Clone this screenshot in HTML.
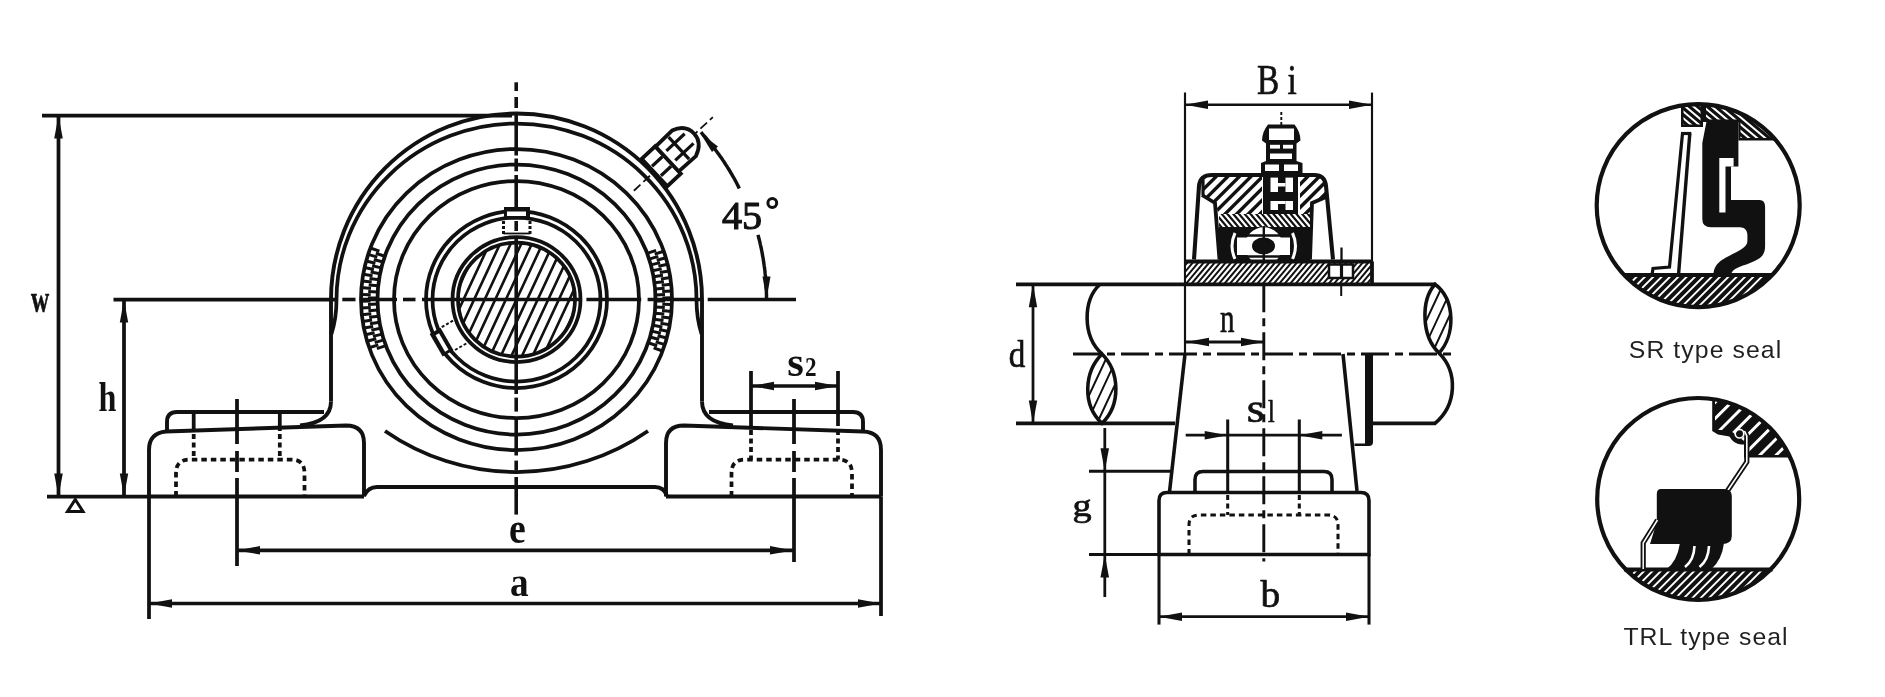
<!DOCTYPE html>
<html><head><meta charset="utf-8"><style>
html,body{margin:0;padding:0;background:#fff;}
svg{display:block;filter:grayscale(1);}
</style></head><body>
<svg width="1885" height="697" viewBox="0 0 1885 697">
<rect width="1885" height="697" fill="#fff"/>
<g stroke="#111" fill="none" stroke-linecap="butt">
<line x1="42" y1="115.5" x2="512" y2="115.5" stroke-width="3.75" />
<line x1="58.5" y1="115.5" x2="58.5" y2="496.5" stroke-width="3.75" />
<path d="M58.5,115.5 L62.8,138.5 L54.2,138.5 Z" fill="#111" stroke="none"/>
<path d="M58.5,496.5 L54.2,473.5 L62.8,473.5 Z" fill="#111" stroke="none"/>
<line x1="113.5" y1="299.5" x2="338" y2="299.5" stroke-width="3.75" />
<line x1="124" y1="299.5" x2="124" y2="496.5" stroke-width="3.75" />
<path d="M124.0,299.5 L128.2,322.5 L119.8,322.5 Z" fill="#111" stroke="none"/>
<path d="M124.0,496.5 L119.8,473.5 L128.2,473.5 Z" fill="#111" stroke="none"/>
<line x1="47" y1="496.5" x2="149" y2="496.5" stroke-width="3.75" />
<path d="M67.5,511.5 L83,511.5 L75.25,499.5 Z" stroke-width="3.00" fill="none" />
<path d="M331,401.5 L331,299.5 A185.5,186 0 0 1 702,299.5 L702,401.5" stroke-width="3.90" fill="none" />
<path d="M331,401.5 C331,416 320,423.5 300,425.5" stroke-width="3.90" fill="none" />
<path d="M702,401.5 C702,416 713,423.5 733,425.5" stroke-width="3.90" fill="none" />
<path d="M331.5,334 Q336.5,318 336.5,299.5 A180,176 0 0 1 696.5,299.5 Q696.5,318 701.5,334" stroke-width="3.75" fill="none" />
<ellipse cx="516.5" cy="299.5" rx="155.5" ry="150.5" stroke-width="3.75" fill="none" />
<ellipse cx="516.5" cy="299.5" rx="139" ry="135" stroke-width="3.75" fill="none" />
<ellipse cx="516.5" cy="299.5" rx="122.5" ry="118.5" stroke-width="3.75" fill="none" />
<ellipse cx="516.5" cy="299.5" rx="90.5" ry="88.5" stroke-width="3.75" fill="none" />
<ellipse cx="516.5" cy="299.5" rx="84" ry="82" stroke-width="3.75" fill="none" />
<ellipse cx="516.5" cy="299.5" rx="64" ry="62.5" stroke-width="3.75" fill="none" />
<ellipse cx="516.5" cy="299.5" rx="58.5" ry="57" stroke-width="3.75" fill="none" />
<path d="M379.4,251.1 L370.4,248.0 M384.8,256.2 L375.8,253.3 M377.3,257.1 L368.1,254.4 M383.0,262.0 L373.8,259.5 M375.4,263.3 L366.2,261.0 M381.4,267.9 L372.1,265.8 M373.9,269.5 L364.5,267.5 M380.0,273.8 L370.6,272.1 M372.6,275.7 L363.2,274.2 M379.0,279.8 L369.5,278.5 M371.7,282.0 L362.2,280.9 M378.2,285.8 L368.7,284.9 M371.0,288.4 L361.5,287.6 M377.7,291.9 L368.2,291.4 M370.7,294.7 L361.1,294.4 M377.5,298.0 L367.9,297.9 M370.6,301.1 L361.0,301.2 M377.6,304.1 L368.0,304.4 M370.8,307.5 L361.2,308.0 M377.9,310.1 L368.4,310.8 M371.3,313.8 L361.8,314.7 M378.6,316.2 L369.1,317.3 M372.1,320.1 L362.7,321.5 M379.5,322.2 L370.0,323.7 M373.2,326.4 L363.8,328.1 M380.7,328.2 L371.3,330.1 M374.6,332.7 L365.3,334.8 M382.1,334.1 L372.9,336.4 M376.3,338.8 L367.1,341.3 M383.9,339.9 L374.7,342.6 M378.3,344.9 L369.2,347.8 M385.9,345.7 L376.9,348.7" stroke-width="3.0" fill="none"/>
<path d="M653.6,347.9 L662.6,351.0 M648.2,342.8 L657.2,345.7 M655.7,341.9 L664.9,344.6 M650.0,337.0 L659.2,339.5 M657.6,335.7 L666.8,338.0 M651.6,331.1 L660.9,333.2 M659.1,329.5 L668.5,331.5 M653.0,325.2 L662.4,326.9 M660.4,323.3 L669.8,324.8 M654.0,319.2 L663.5,320.5 M661.3,317.0 L670.8,318.1 M654.8,313.2 L664.3,314.1 M662.0,310.6 L671.5,311.4 M655.3,307.1 L664.8,307.6 M662.3,304.3 L671.9,304.6 M655.5,301.0 L665.1,301.1 M662.4,297.9 L672.0,297.8 M655.4,294.9 L665.0,294.6 M662.2,291.5 L671.8,291.0 M655.1,288.9 L664.6,288.2 M661.7,285.2 L671.2,284.3 M654.4,282.8 L663.9,281.7 M660.9,278.9 L670.3,277.5 M653.5,276.8 L663.0,275.3 M659.8,272.6 L669.2,270.9 M652.3,270.8 L661.7,268.9 M658.4,266.3 L667.7,264.2 M650.9,264.9 L660.1,262.6 M656.7,260.2 L665.9,257.7 M649.1,259.1 L658.3,256.4 M654.7,254.1 L663.8,251.2 M647.1,253.3 L656.1,250.3" stroke-width="3.0" fill="none"/>
<path d="M385,431 A231,231 0 0 0 648,431" stroke-width="3.75" fill="none" />
<clipPath id="shaft"><ellipse cx="516.5" cy="299.5" rx="58.5" ry="57"/></clipPath>
<path d="M352.0,379.5 L426.6,219.5 M362.6,379.5 L437.2,219.5 M373.2,379.5 L447.8,219.5 M383.8,379.5 L458.4,219.5 M394.4,379.5 L469.0,219.5 M405.0,379.5 L479.6,219.5 M415.6,379.5 L490.2,219.5 M426.2,379.5 L500.8,219.5 M436.8,379.5 L511.4,219.5 M447.4,379.5 L522.0,219.5 M458.0,379.5 L532.6,219.5 M468.6,379.5 L543.2,219.5 M479.2,379.5 L553.8,219.5 M489.8,379.5 L564.4,219.5 M500.4,379.5 L575.0,219.5 M511.0,379.5 L585.6,219.5 M521.6,379.5 L596.2,219.5 M532.2,379.5 L606.8,219.5 M542.8,379.5 L617.4,219.5 M553.4,379.5 L628.0,219.5 M564.0,379.5 L638.6,219.5 M574.6,379.5 L649.2,219.5 M585.2,379.5 L659.8,219.5 M595.8,379.5 L670.4,219.5 M606.4,379.5 L681.0,219.5" stroke-width="2.62" fill="none" clip-path="url(#shaft)"/>
<line x1="342.3" y1="299.5" x2="355.5" y2="299.5" stroke-width="3.60" />
<line x1="361" y1="299.5" x2="397" y2="299.5" stroke-width="3.60" />
<line x1="403" y1="299.5" x2="415.5" y2="299.5" stroke-width="3.60" />
<line x1="422" y1="299.5" x2="580.5" y2="299.5" stroke-width="3.60" />
<line x1="586.4" y1="299.5" x2="641.2" y2="299.5" stroke-width="3.60" />
<line x1="647.6" y1="299.5" x2="703" y2="299.5" stroke-width="3.60" />
<line x1="707.7" y1="299.5" x2="796" y2="299.5" stroke-width="3.60" />
<line x1="516.2" y1="82.3" x2="516.2" y2="91" stroke-width="3.60" />
<line x1="516.2" y1="97" x2="516.2" y2="108" stroke-width="3.60" />
<line x1="516.2" y1="112" x2="516.2" y2="155.5" stroke-width="3.60" />
<line x1="516.2" y1="158.5" x2="516.2" y2="171.3" stroke-width="3.60" />
<line x1="516.2" y1="175" x2="516.2" y2="207" stroke-width="3.60" />
<line x1="516.2" y1="221" x2="516.2" y2="231" stroke-width="3.60" />
<line x1="516.2" y1="236" x2="516.2" y2="394" stroke-width="3.60" />
<line x1="516.2" y1="397.6" x2="516.2" y2="411.6" stroke-width="3.60" />
<line x1="516.2" y1="418" x2="516.2" y2="455.5" stroke-width="3.60" />
<line x1="516.2" y1="460.6" x2="516.2" y2="470.6" stroke-width="3.60" />
<line x1="516.2" y1="477" x2="516.2" y2="514.6" stroke-width="3.60" />
<rect x="504" y="207" width="26" height="12.5" fill="#111" stroke="none"/>
<rect x="507" y="211.5" width="19" height="4.5" fill="#fff" stroke="none"/>
<line x1="503.5" y1="221" x2="503.5" y2="235" stroke-width="3.00" stroke-dasharray="3 2"/>
<line x1="530" y1="221" x2="530" y2="235" stroke-width="3.00" stroke-dasharray="3 2"/>
<line x1="503.5" y1="233.5" x2="530" y2="233.5" stroke-width="1.80" />
<g transform="rotate(-120 516.5 299.5)"><rect x="504" y="207" width="26" height="12.5" fill="#111" stroke="none"/><rect x="507" y="211.5" width="19" height="4" fill="#fff" stroke="none"/><line x1="503.5" y1="221" x2="503.5" y2="235" stroke-width="2" stroke-dasharray="3 2"/><line x1="530" y1="221" x2="530" y2="235" stroke-width="2" stroke-dasharray="3 2"/></g>
<g transform="translate(516.5,299.5) rotate(-43)"><line x1="160" y1="0.5" x2="268" y2="0.5" stroke-width="1.8" stroke-dasharray="9 4"/><path d="M187.5,-17.5 L206,-17.5 L206,20 L187.5,20 Z" fill="#fff" stroke-width="3.8"/><path d="M190,-5 L204,-5 M190,8 L204,8" stroke-width="3.2"/><path d="M206,-17 L229,-17.5 Q243,-13 243,0 Q243,12 229,17.5 L206,17 Z" fill="#fff" stroke-width="3.8"/><path d="M211,-6.5 L236,-6.5 M211,6.5 L236,6.5 M222,-15 L222,15" stroke-width="3.2"/></g>
<path d="M701.0,132.2 L702.1,133.5 L703.2,134.8 L704.4,136.1 L705.5,137.4 L706.6,138.7 L707.7,140.0 L708.8,141.3 L709.8,142.6 L710.9,143.9 L712.0,145.3 L713.0,146.6 L714.1,148.0 L715.1,149.3 L716.1,150.7 L717.1,152.0 L718.1,153.4 L719.1,154.8 L720.1,156.2 L721.1,157.6 L722.1,159.0 L723.0,160.4 L724.0,161.8 L724.9,163.3 L725.8,164.7 L726.8,166.1 L727.7,167.6 L728.6,169.0 L729.5,170.5 L730.3,171.9 L731.2,173.4 L732.1,174.9 L732.9,176.4 L733.8,177.8 L734.6,179.3 L735.4,180.8 L736.2,182.3 L737.0,183.8 L737.8,185.4 L738.6,186.9 L739.3,188.4" stroke-width="3.45" fill="none" />
<path d="M758.0,234.8 L758.4,236.4 L758.8,238.0 L759.2,239.5 L759.6,241.1 L760.0,242.7 L760.3,244.3 L760.7,245.9 L761.0,247.5 L761.4,249.1 L761.7,250.7 L762.0,252.3 L762.3,253.9 L762.6,255.6 L762.9,257.2 L763.2,258.8 L763.4,260.4 L763.7,262.0 L763.9,263.6 L764.1,265.2 L764.4,266.9 L764.6,268.5 L764.8,270.1 L765.0,271.7 L765.1,273.4 L765.3,275.0 L765.5,276.6 L765.6,278.3 L765.7,279.9 L765.9,281.5 L766.0,283.1 L766.1,284.8 L766.2,286.4 L766.2,288.1 L766.3,289.7 L766.4,291.3 L766.4,293.0 L766.5,294.6 L766.5,296.2 L766.5,297.9 L766.5,299.5" stroke-width="3.45" fill="none" />
<path d="M700.2,132.9 L718.0,146.5 L712.0,151.9 Z" fill="#111" stroke="none"/>
<path d="M766.5,299.5 L762.5,276.5 L770.5,276.5 Z" fill="#111" stroke="none"/>
<circle cx="772.3" cy="203" r="4.4" stroke-width="3.0" fill="none"/>
<line x1="149" y1="496.5" x2="364" y2="496.5" stroke-width="3.90" />
<line x1="666" y1="496.5" x2="881" y2="496.5" stroke-width="3.90" />
<path d="M149,496.5 L149,450 Q149,433 166,431.5 L346,425.5 Q364,425.5 364,443 L364,496.5" stroke-width="3.90" fill="none" />
<path d="M364,496 Q368,487 377,487 L655,487 Q664,487 667,496" stroke-width="3.90" fill="none" />
<path d="M666,496.5 L666,443 Q666,425.5 684,425.5 L863,431.5 Q881,432 881,450 L881,496.5" stroke-width="3.90" fill="none" />
<path d="M167,431.5 L167,422 Q167,412 177,412 L324,412" stroke-width="3.90" fill="none" />
<path d="M709,412 L853,412 Q863,412 863,422 L863,431.5" stroke-width="3.90" fill="none" />
<path d="M176,496.5 L176,473 Q176,459.5 190,459.5 L291,459.5 Q304.5,459.5 304.5,473 L304.5,496.5" stroke-width="3.75" fill="none" stroke-dasharray="5.5 4"/>
<path d="M731.5,496.5 L731.5,473 Q731.5,459.5 745,459.5 L838,459.5 Q852,459.5 852,473 L852,496.5" stroke-width="3.75" fill="none" stroke-dasharray="5.5 4"/>
<line x1="193.7" y1="412" x2="193.7" y2="431" stroke-width="3.75" />
<line x1="193.7" y1="434" x2="193.7" y2="459.5" stroke-width="3.75" stroke-dasharray="5 3.5"/>
<line x1="279.8" y1="412" x2="279.8" y2="431" stroke-width="3.75" />
<line x1="279.8" y1="434" x2="279.8" y2="459.5" stroke-width="3.75" stroke-dasharray="5 3.5"/>
<line x1="751" y1="371" x2="751" y2="426" stroke-width="3.75" />
<line x1="751" y1="430" x2="751" y2="459.5" stroke-width="3.75" stroke-dasharray="5 3.5"/>
<line x1="838" y1="371" x2="838" y2="426" stroke-width="3.75" />
<line x1="838" y1="430" x2="838" y2="459.5" stroke-width="3.75" stroke-dasharray="5 3.5"/>
<line x1="237" y1="399" x2="237" y2="444" stroke-width="3.75" />
<line x1="237" y1="451" x2="237" y2="472" stroke-width="3.75" />
<line x1="237" y1="478" x2="237" y2="566" stroke-width="3.75" />
<line x1="794" y1="399" x2="794" y2="444" stroke-width="3.75" />
<line x1="794" y1="451" x2="794" y2="472" stroke-width="3.75" />
<line x1="794" y1="478" x2="794" y2="562" stroke-width="3.75" />
<line x1="237" y1="550.4" x2="793" y2="550.4" stroke-width="3.60" />
<path d="M237.0,550.4 L260.0,546.1 L260.0,554.6 Z" fill="#111" stroke="none"/>
<path d="M793.0,550.4 L770.0,554.6 L770.0,546.1 Z" fill="#111" stroke="none"/>
<line x1="149" y1="496.5" x2="149" y2="619" stroke-width="3.75" />
<line x1="881" y1="496.5" x2="881" y2="616" stroke-width="3.75" />
<line x1="149" y1="603.5" x2="881" y2="603.5" stroke-width="3.60" />
<path d="M149.0,603.5 L172.0,599.2 L172.0,607.8 Z" fill="#111" stroke="none"/>
<path d="M881.0,603.5 L858.0,607.8 L858.0,599.2 Z" fill="#111" stroke="none"/>
<line x1="751" y1="386" x2="838" y2="386" stroke-width="3.60" />
<path d="M751.0,386.0 L774.0,381.8 L774.0,390.2 Z" fill="#111" stroke="none"/>
<path d="M838.0,386.0 L815.0,390.2 L815.0,381.8 Z" fill="#111" stroke="none"/>
<line x1="1185" y1="92.6" x2="1185" y2="354" stroke-width="2.16" />
<line x1="1372" y1="92.6" x2="1372" y2="262" stroke-width="2.16" />
<line x1="1185" y1="104.8" x2="1372" y2="104.8" stroke-width="2.41" />
<path d="M1185.0,104.8 L1208.0,100.5 L1208.0,109.0 Z" fill="#111" stroke="none"/>
<path d="M1372.0,104.8 L1349.0,109.0 L1349.0,100.5 Z" fill="#111" stroke="none"/>
<line x1="1281.3" y1="112" x2="1281.3" y2="125" stroke-width="1.91" stroke-dasharray="3 2"/>
<path d="M1268,124.5 L1294.5,124.5 Q1300.5,132 1300.5,140.5 L1296.5,143.5 L1296.5,161 L1302.5,163 L1302.5,176 L1261,176 L1261,163 L1266,161 L1266,143.5 L1262,140.5 Q1262,132 1268,124.5 Z" stroke-width="0.00" fill="#111" stroke="none"/>
<rect x="1269" y="128.5" width="25" height="11.5" fill="#fff" stroke="none"/>
<rect x="1270" y="144.8" width="10" height="3.8" fill="#fff" stroke="none"/>
<rect x="1283" y="144.8" width="10" height="3.8" fill="#fff" stroke="none"/>
<rect x="1270" y="153.5" width="22" height="5.5" fill="#fff" stroke="none"/>
<rect x="1265" y="164.5" width="14" height="6.5" fill="#fff" stroke="none"/>
<rect x="1284" y="164.5" width="14" height="6.5" fill="#fff" stroke="none"/>
<pattern id="h45" patternUnits="userSpaceOnUse" width="8" height="8" patternTransform="rotate(45)"><rect width="8" height="8" fill="#fff"/><rect x="0" y="0" width="2.8" height="8" fill="#111"/></pattern>
<pattern id="fineA" patternUnits="userSpaceOnUse" width="4.6" height="4.6" patternTransform="rotate(45)"><rect width="4.6" height="4.6" fill="#111"/><rect x="0" y="0" width="2.2" height="4.6" fill="#fff"/></pattern>
<pattern id="fineB" patternUnits="userSpaceOnUse" width="4.6" height="4.6" patternTransform="rotate(-45)"><rect width="4.6" height="4.6" fill="#111"/><rect x="0" y="0" width="2.2" height="4.6" fill="#fff"/></pattern>
<clipPath id="hc1"><path d="M1203,176 L1262,176 L1262,215 L1219,215 L1215,203 L1202,195 Z"/></clipPath>
<g clip-path="url(#hc1)"><path d="M1154.2,192.1 L1229.6,116.7 M1160.0,197.9 L1235.4,122.5 M1165.8,203.7 L1241.2,128.3 M1171.6,209.5 L1247.0,134.1 M1177.4,215.3 L1252.8,139.9 M1183.2,221.1 L1258.6,145.7 M1189.0,226.9 L1264.4,151.5 M1194.8,232.7 L1270.2,157.3 M1200.6,238.5 L1276.0,163.1 M1206.4,244.3 L1281.8,168.9 M1212.2,250.1 L1287.6,174.7 M1218.0,255.9 L1293.4,180.5 M1223.8,261.7 L1299.2,186.3 M1229.6,267.5 L1305.0,192.1 M1235.4,273.3 L1310.8,197.9" stroke="#111" stroke-width="3.4" fill="none"/></g>
<clipPath id="hc2"><path d="M1300,176 L1322,176 L1326,184 L1326,197 L1312,203 L1310,215 L1300,215 Z"/></clipPath>
<g clip-path="url(#hc2)"><path d="M1256.1,193.4 L1310.9,138.6 M1261.9,199.2 L1316.7,144.4 M1267.7,205.0 L1322.5,150.2 M1273.5,210.8 L1328.3,156.0 M1279.3,216.6 L1334.1,161.8 M1285.1,222.4 L1339.9,167.6 M1290.9,228.2 L1345.7,173.4 M1296.7,234.0 L1351.5,179.2 M1302.5,239.8 L1357.3,185.0 M1308.3,245.6 L1363.1,190.8 M1314.1,251.4 L1368.9,196.6" stroke="#111" stroke-width="3.4" fill="none"/></g>
<rect x="1263" y="174" width="35" height="42" fill="#111" stroke="none"/>
<rect x="1270.5" y="177.6" width="7.5" height="14.4" fill="#fff" stroke="none"/>
<rect x="1285.5" y="177.6" width="7.5" height="14.4" fill="#fff" stroke="none"/>
<rect x="1278" y="183" width="7.5" height="3.5" fill="#fff" stroke="none"/>
<rect x="1270.5" y="201" width="7.5" height="9" fill="#fff" stroke="none"/>
<rect x="1285.5" y="201" width="7.5" height="9" fill="#fff" stroke="none"/>
<rect x="1278" y="201" width="7.5" height="3" fill="#fff" stroke="none"/>
<path d="M1194,259.5 L1199,186 Q1200,175 1212,175 L1314,175 Q1325,175 1326,186 L1333,259.5" stroke-width="4.06" fill="none" />
<path d="M1202,195 L1215,203 L1219.5,259.5" stroke-width="3.81" fill="none" />
<path d="M1326,197 L1312,203 L1310,259.5" stroke-width="3.81" fill="none" />
<path d="M1203,176 L1203,195" stroke-width="3.17" fill="none" />
<clipPath id="hc3"><path d="M1219,214 L1310,214 L1310,229 L1219,229 Z"/></clipPath>
<g clip-path="url(#hc3)"><path d="M1219,214 L1310,214 L1310,229 L1219,229 Z" fill="#111" stroke="none"/><path d="M1273.1,141.6 L1344.6,226.8 M1269.7,144.5 L1341.2,229.6 M1266.3,147.3 L1337.8,232.5 M1263.0,150.1 L1334.4,235.3 M1259.6,153.0 L1331.1,238.1 M1256.2,155.8 L1327.7,241.0 M1252.9,158.6 L1324.3,243.8 M1249.5,161.4 L1321.0,246.6 M1246.1,164.3 L1317.6,249.4 M1242.7,167.1 L1314.2,252.3 M1239.4,169.9 L1310.8,255.1 M1236.0,172.8 L1307.5,257.9 M1232.6,175.6 L1304.1,260.8 M1229.3,178.4 L1300.7,263.6 M1225.9,181.2 L1297.4,266.4 M1222.5,184.1 L1294.0,269.2 M1219.2,186.9 L1290.6,272.1 M1215.8,189.7 L1287.3,274.9 M1212.4,192.6 L1283.9,277.7 M1209.0,195.4 L1280.5,280.6 M1205.7,198.2 L1277.1,283.4 M1202.3,201.0 L1273.8,286.2 M1198.9,203.9 L1270.4,289.0 M1195.6,206.7 L1267.0,291.9 M1192.2,209.5 L1263.7,294.7 M1188.8,212.4 L1260.3,297.5 M1185.4,215.2 L1256.9,300.4" stroke="#fff" stroke-width="2.2" fill="none"/></g>
<rect x="1219" y="227" width="91" height="35" fill="#111" stroke="none"/>
<rect x="1237" y="237.5" width="53" height="17.5" fill="#fff" stroke="none"/>
<circle cx="1263.8" cy="246" r="18.8" fill="#fff" stroke="none"/>
<path d="M1244,235.5 L1284,235.5 M1244,256.5 L1284,256.5" stroke="#111" stroke-width="2.6" fill="none"/>
<ellipse cx="1263.5" cy="246" rx="11.5" ry="8.5" fill="#111" stroke="none"/>
<path d="M1235,233 Q1229,246 1235,259 M1292.5,233 Q1298.5,246 1292.5,259" stroke="#fff" stroke-width="3" fill="none"/>
<line x1="1263.8" y1="226" x2="1263.8" y2="266" stroke="#111" stroke-width="2.4"/>
<clipPath id="hc4"><path d="M1186,262 L1372,262 L1372,283 L1186,283 Z"/></clipPath>
<g clip-path="url(#hc4)"><path d="M1186,262 L1372,262 L1372,283 L1186,283 Z" fill="#111" stroke="none"/><path d="M1128.7,283.5 L1264.0,122.1 M1131.9,286.2 L1267.3,124.8 M1135.1,288.9 L1270.5,127.5 M1138.3,291.6 L1273.7,130.2 M1141.5,294.3 L1276.9,132.9 M1144.7,297.0 L1280.1,135.6 M1148.0,299.7 L1283.3,138.3 M1151.2,302.4 L1286.6,141.0 M1154.4,305.1 L1289.8,143.7 M1157.6,307.8 L1293.0,146.4 M1160.8,310.5 L1296.2,149.1 M1164.0,313.2 L1299.4,151.8 M1167.3,315.9 L1302.7,154.5 M1170.5,318.6 L1305.9,157.2 M1173.7,321.3 L1309.1,159.9 M1176.9,324.0 L1312.3,162.6 M1180.1,326.7 L1315.5,165.3 M1183.3,329.4 L1318.7,168.0 M1186.6,332.1 L1322.0,170.7 M1189.8,334.8 L1325.2,173.4 M1193.0,337.5 L1328.4,176.1 M1196.2,340.2 L1331.6,178.8 M1199.4,342.9 L1334.8,181.5 M1202.7,345.6 L1338.0,184.2 M1205.9,348.3 L1341.3,186.9 M1209.1,351.0 L1344.5,189.6 M1212.3,353.7 L1347.7,192.3 M1215.5,356.4 L1350.9,195.0 M1218.7,359.1 L1354.1,197.7 M1222.0,361.8 L1357.3,200.4 M1225.2,364.5 L1360.6,203.1 M1228.4,367.2 L1363.8,205.8 M1231.6,369.9 L1367.0,208.5 M1234.8,372.6 L1370.2,211.2 M1238.0,375.3 L1373.4,213.9 M1241.3,378.0 L1376.7,216.6 M1244.5,380.7 L1379.9,219.3 M1247.7,383.4 L1383.1,222.0 M1250.9,386.1 L1386.3,224.7 M1254.1,388.8 L1389.5,227.4 M1257.3,391.5 L1392.7,230.1 M1260.6,394.2 L1396.0,232.8 M1263.8,396.9 L1399.2,235.5 M1267.0,399.6 L1402.4,238.2 M1270.2,402.3 L1405.6,240.9 M1273.4,405.0 L1408.8,243.6 M1276.7,407.7 L1412.0,246.3 M1279.9,410.4 L1415.3,249.0 M1283.1,413.1 L1418.5,251.7 M1286.3,415.8 L1421.7,254.4 M1289.5,418.5 L1424.9,257.1 M1292.7,421.2 L1428.1,259.8 M1296.0,423.9 L1431.3,262.5" stroke="#fff" stroke-width="2.2" fill="none"/></g>
<line x1="1186" y1="261.5" x2="1372" y2="261.5" stroke-width="4.06" />
<rect x="1329" y="264.5" width="24" height="13.5" fill="#fff" stroke="#111" stroke-width="2.5"/>
<line x1="1341.5" y1="264.5" x2="1341.5" y2="278" stroke-width="3.17" />
<line x1="1341.5" y1="247.5" x2="1341.5" y2="261" stroke-width="2.29" />
<line x1="1372" y1="261.5" x2="1372" y2="284" stroke-width="3.81" />
<line x1="1016" y1="284.3" x2="1436" y2="284.3" stroke-width="3.81" />
<line x1="1016" y1="423.4" x2="1175" y2="423.4" stroke-width="3.56" />
<line x1="1373" y1="423.4" x2="1436" y2="423.4" stroke-width="3.56" />
<path d="M1100,284.3 C1083,300 1082,336 1102,354" stroke-width="3.56" fill="none" />
<clipPath id="hc5"><path d="M1102,354 C1084,372 1082,405 1102,423.4 C1121,405 1120,372 1102,354 Z"/></clipPath>
<g clip-path="url(#hc5)"><path d="M1027.8,414.3 L1073.9,315.5 M1036.4,418.3 L1082.5,319.5 M1045.0,422.4 L1091.1,323.5 M1053.6,426.4 L1099.7,327.5 M1062.2,430.4 L1108.3,331.6 M1070.8,434.4 L1116.9,335.6 M1079.5,438.4 L1125.5,339.6 M1088.1,442.4 L1134.2,343.6 M1096.7,446.4 L1142.8,347.6 M1105.3,450.5 L1151.4,351.6 M1113.9,454.5 L1160.0,355.6 M1122.5,458.5 L1168.6,359.7 M1131.1,462.5 L1177.2,363.7" stroke="#111" stroke-width="2.0" fill="none"/></g>
<path d="M1102,354 C1084,372 1082,405 1102,423.4 C1121,405 1120,372 1102,354 Z" stroke-width="3.56" fill="none" />
<clipPath id="hc6"><path d="M1435,284.3 C1421,300 1421,336 1439,353 C1455,336 1456,300 1435,284.3 Z"/></clipPath>
<g clip-path="url(#hc6)"><path d="M1362.8,344.3 L1408.9,245.5 M1371.4,348.3 L1417.5,249.5 M1380.0,352.4 L1426.1,253.5 M1388.6,356.4 L1434.7,257.5 M1397.2,360.4 L1443.3,261.6 M1405.8,364.4 L1451.9,265.6 M1414.5,368.4 L1460.5,269.6 M1423.1,372.4 L1469.2,273.6 M1431.7,376.4 L1477.8,277.6 M1440.3,380.5 L1486.4,281.6 M1448.9,384.5 L1495.0,285.6 M1457.5,388.5 L1503.6,289.7 M1466.1,392.5 L1512.2,293.7" stroke="#111" stroke-width="2.0" fill="none"/></g>
<path d="M1435,284.3 C1421,300 1421,336 1439,353 C1455,336 1456,300 1435,284.3 Z" stroke-width="3.56" fill="none" />
<path d="M1439,353 C1458,372 1457,405 1435,423.4" stroke-width="3.56" fill="none" />
<pattern id="h45l" patternUnits="userSpaceOnUse" width="7" height="7" patternTransform="rotate(30)"><rect width="7" height="7" fill="#fff"/><rect x="0" y="0" width="2" height="7" fill="#111"/></pattern>
<line x1="1073" y1="354" x2="1456" y2="354" stroke-width="2.92" stroke-dasharray="28 6 8 6"/>
<line x1="1033" y1="284.3" x2="1033" y2="423.4" stroke-width="2.79" />
<path d="M1033.0,284.3 L1037.2,307.3 L1028.8,307.3 Z" fill="#111" stroke="none"/>
<path d="M1033.0,423.4 L1028.8,400.4 L1037.2,400.4 Z" fill="#111" stroke="none"/>
<line x1="1185" y1="354" x2="1169.5" y2="492" stroke-width="3.56" />
<line x1="1343" y1="354" x2="1357" y2="491" stroke-width="3.56" />
<path d="M1365,354 L1373,354 L1373,442 Q1373,446 1369,446 L1354.5,446 L1354.5,443.5 L1365,443.5 Z" stroke-width="0.00" fill="#111" stroke="none"/>
<path d="M1195,492.5 L1195,479.5 Q1195,471.5 1203,471.5 L1324,471.5 Q1332,471.5 1332,479.5 L1332,492.5" stroke-width="3.56" fill="none" />
<path d="M1159,554.5 L1159,500.5 Q1159,492.5 1167,492.5 L1361,492.5 Q1369,492.5 1369,500.5 L1369,554.5 Z" stroke-width="3.56" fill="none" />
<path d="M1189,554.5 L1189,525 Q1189,515 1199,515 L1328,515 Q1338,515 1338,525 L1338,554.5" stroke-width="3.05" fill="none" stroke-dasharray="5.5 4"/>
<line x1="1227.7" y1="419.5" x2="1227.7" y2="492.5" stroke-width="3.05" />
<line x1="1227.7" y1="495" x2="1227.7" y2="515" stroke-width="3.05" stroke-dasharray="5 3.5"/>
<line x1="1299.3" y1="419.5" x2="1299.3" y2="492.5" stroke-width="3.05" />
<line x1="1299.3" y1="495" x2="1299.3" y2="515" stroke-width="3.05" stroke-dasharray="5 3.5"/>
<line x1="1341.2" y1="285" x2="1341.2" y2="296" stroke-width="2.03" />
<line x1="1263.8" y1="284.3" x2="1263.8" y2="561.5" stroke-width="2.92" stroke-dasharray="28 6 8 6"/>
<line x1="1185.7" y1="435.2" x2="1341.9" y2="435.2" stroke-width="2.79" />
<path d="M1227.7,435.2 L1204.7,439.4 L1204.7,430.9 Z" fill="#111" stroke="none"/>
<path d="M1299.3,435.2 L1322.3,430.9 L1322.3,439.4 Z" fill="#111" stroke="none"/>
<line x1="1186" y1="342" x2="1264" y2="342" stroke-width="2.79" />
<path d="M1186.0,342.0 L1209.0,337.8 L1209.0,346.2 Z" fill="#111" stroke="none"/>
<path d="M1264.0,342.0 L1241.0,346.2 L1241.0,337.8 Z" fill="#111" stroke="none"/>
<line x1="1089" y1="471.3" x2="1172" y2="471.3" stroke-width="3.05" />
<line x1="1089" y1="554.5" x2="1159" y2="554.5" stroke-width="3.05" />
<line x1="1104.8" y1="428" x2="1104.8" y2="597" stroke-width="2.79" />
<path d="M1104.8,471.3 L1100.5,448.3 L1109.0,448.3 Z" fill="#111" stroke="none"/>
<path d="M1104.8,554.5 L1109.0,577.5 L1100.5,577.5 Z" fill="#111" stroke="none"/>
<line x1="1159" y1="554.5" x2="1159" y2="624.6" stroke-width="3.05" />
<line x1="1369" y1="554.5" x2="1369" y2="624.6" stroke-width="3.05" />
<line x1="1159" y1="616.7" x2="1369" y2="616.7" stroke-width="2.79" />
<path d="M1159.0,616.7 L1182.0,612.5 L1182.0,621.0 Z" fill="#111" stroke="none"/>
<path d="M1369.0,616.7 L1346.0,621.0 L1346.0,612.5 Z" fill="#111" stroke="none"/>
<clipPath id="hc7"><path d="M1624.1,275 L1772.3,275 A101.5,101.5 0 0 1 1624.1,275 Z"/></clipPath>
<g clip-path="url(#hc7)"><path d="M1624.1,275 L1772.3,275 A101.5,101.5 0 0 1 1624.1,275 Z" fill="#111" stroke="none"/><path d="M1540.5,289.4 L1697.9,132.0 M1544.7,293.6 L1702.1,136.2 M1548.9,297.8 L1706.3,140.4 M1553.0,302.0 L1710.5,144.5 M1557.2,306.1 L1714.6,148.7 M1561.4,310.3 L1718.8,152.9 M1565.6,314.5 L1723.0,157.1 M1569.7,318.6 L1727.1,161.2 M1573.9,322.8 L1731.3,165.4 M1578.1,327.0 L1735.5,169.6 M1582.2,331.2 L1739.7,173.7 M1586.4,335.3 L1743.8,177.9 M1590.6,339.5 L1748.0,182.1 M1594.8,343.7 L1752.2,186.3 M1598.9,347.9 L1756.4,190.4 M1603.1,352.0 L1760.5,194.6 M1607.3,356.2 L1764.7,198.8 M1611.4,360.4 L1768.9,202.9 M1615.6,364.5 L1773.0,207.1 M1619.8,368.7 L1777.2,211.3 M1624.0,372.9 L1781.4,215.5 M1628.1,377.1 L1785.6,219.6 M1632.3,381.2 L1789.7,223.8 M1636.5,385.4 L1793.9,228.0 M1640.6,389.6 L1798.1,232.1 M1644.8,393.7 L1802.2,236.3 M1649.0,397.9 L1806.4,240.5 M1653.2,402.1 L1810.6,244.7 M1657.3,406.3 L1814.8,248.8 M1661.5,410.4 L1818.9,253.0 M1665.7,414.6 L1823.1,257.2 M1669.9,418.8 L1827.3,261.4 M1674.0,422.9 L1831.4,265.5 M1678.2,427.1 L1835.6,269.7 M1682.4,431.3 L1839.8,273.9 M1686.5,435.5 L1844.0,278.0 M1690.7,439.6 L1848.1,282.2 M1694.9,443.8 L1852.3,286.4 M1699.1,448.0 L1856.5,290.6" stroke="#fff" stroke-width="1.9" fill="none"/></g>
<clipPath id="srTop"><circle cx="1698.2" cy="205.6" r="101.5"/></clipPath>
<g clip-path="url(#srTop)"><path d="M1681,95 L1681,127 L1703,127 L1703,122 L1738.4,122 L1738.4,140.6 L1805,140.6 L1805,95 Z" fill="#111" stroke="none"/></g>
<clipPath id="hc8"><path d="M1683.5,100 L1683.5,124.5 L1700.5,124.5 L1700.5,100 Z"/></clipPath>
<g clip-path="url(#hc8)"><path d="M1692.1,71.4 L1733.0,105.8 M1688.8,75.4 L1729.7,109.7 M1685.4,79.4 L1726.3,113.7 M1682.1,83.4 L1723.0,117.7 M1678.7,87.4 L1719.6,121.7 M1675.4,91.4 L1716.3,125.7 M1672.0,95.3 L1713.0,129.7 M1668.7,99.3 L1709.6,133.6 M1665.4,103.3 L1706.3,137.6 M1662.0,107.3 L1702.9,141.6 M1658.7,111.3 L1699.6,145.6 M1655.3,115.3 L1696.2,149.6 M1652.0,119.2 L1692.9,153.6" stroke="#fff" stroke-width="2.0" fill="none"/></g>
<clipPath id="hc9"><path d="M1706,95 L1706,119.5 L1740.5,119.5 L1740.5,138 L1800,138 L1800,95 Z"/></clipPath>
<g clip-path="url(#hc9)"><path d="M1743.8,31.8 L1836.4,109.6 M1740.5,35.8 L1833.1,113.5 M1737.1,39.8 L1829.7,117.5 M1733.8,43.8 L1826.4,121.5 M1730.4,47.8 L1823.0,125.5 M1727.1,51.8 L1819.7,129.5 M1723.7,55.7 L1816.4,133.5 M1720.4,59.7 L1813.0,137.4 M1717.1,63.7 L1809.7,141.4 M1713.7,67.7 L1806.3,145.4 M1710.4,71.7 L1803.0,149.4 M1707.0,75.7 L1799.6,153.4 M1703.7,79.6 L1796.3,157.4 M1700.4,83.6 L1793.0,161.3 M1697.0,87.6 L1789.6,165.3 M1693.7,91.6 L1786.3,169.3 M1690.3,95.6 L1782.9,173.3 M1687.0,99.6 L1779.6,177.3 M1683.6,103.5 L1776.3,181.3 M1680.3,107.5 L1772.9,185.2 M1677.0,111.5 L1769.6,189.2 M1673.6,115.5 L1766.2,193.2 M1670.3,119.5 L1762.9,197.2 M1666.9,123.5 L1759.5,201.2 M1663.6,127.4 L1756.2,205.2" stroke="#fff" stroke-width="2.0" fill="none"/></g>
<path d="M1623.5,275 L1773,275" stroke="#111" stroke-width="3.8" fill="none"/>
<path d="M1706.4,122 L1738.4,122 L1738.4,166.4 L1731,166.4 L1731,199.9 L1759.6,199.9 Q1765.1,199.9 1765.1,207 L1765.1,246 C1765.1,256 1760,259 1750,263 C1740,267 1732,268 1731,275 L1713.3,275 C1714,266 1718,262 1726,257.5 C1738,251 1747.4,248 1747.4,241 L1747.4,235 C1747.4,230 1744,227.3 1740,227.3 L1711,227.3 Q1702.3,227.3 1702.3,219 L1702.3,143 Z" stroke="none" stroke-width="0" fill="#111"/>
<path d="M1719.3,158 L1733.6,158 L1733.6,166.4 L1725.5,166.4 L1725.5,212.5 L1719.3,212.5 Z" fill="#fff" stroke="none"/>
<path d="M1682.5,133.5 L1669.5,267 L1653,268.5 L1652,275" stroke="#111" stroke-width="3.2" fill="none"/>
<path d="M1689.8,133.5 L1678.5,275" stroke="#111" stroke-width="3.4" fill="none"/>
<path d="M1681,133.5 L1691.3,133.5" stroke="#111" stroke-width="3.2" fill="none"/>
<circle cx="1698.2" cy="205.6" r="101.5" fill="none" stroke="#111" stroke-width="4.2"/>
<clipPath id="hc10"><path d="M1625.9,569.5 L1770.5,569.5 A101,101 0 0 1 1625.9,569.5 Z"/></clipPath>
<g clip-path="url(#hc10)"><path d="M1625.9,569.5 L1770.5,569.5 A101,101 0 0 1 1625.9,569.5 Z" fill="#111" stroke="none"/><path d="M1540.7,582.8 L1697.8,425.7 M1544.9,586.9 L1701.9,429.9 M1549.1,591.1 L1706.1,434.1 M1553.2,595.3 L1710.3,438.2 M1557.4,599.4 L1714.4,442.4 M1561.6,603.6 L1718.6,446.6 M1565.7,607.8 L1722.8,450.7 M1569.9,612.0 L1727.0,454.9 M1574.1,616.1 L1731.1,459.1 M1578.3,620.3 L1735.3,463.3 M1582.4,624.5 L1739.5,467.4 M1586.6,628.6 L1743.6,471.6 M1590.8,632.8 L1747.8,475.8 M1595.0,637.0 L1752.0,480.0 M1599.1,641.2 L1756.2,484.1 M1603.3,645.3 L1760.3,488.3 M1607.5,649.5 L1764.5,492.5 M1611.6,653.7 L1768.7,496.6 M1615.8,657.8 L1772.8,500.8 M1620.0,662.0 L1777.0,505.0 M1624.2,666.2 L1781.2,509.2 M1628.3,670.4 L1785.4,513.3 M1632.5,674.5 L1789.5,517.5 M1636.7,678.7 L1793.7,521.7 M1640.8,682.9 L1797.9,525.8 M1645.0,687.0 L1802.0,530.0 M1649.2,691.2 L1806.2,534.2 M1653.4,695.4 L1810.4,538.4 M1657.5,699.6 L1814.6,542.5 M1661.7,703.7 L1818.7,546.7 M1665.9,707.9 L1822.9,550.9 M1670.0,712.1 L1827.1,555.0 M1674.2,716.3 L1831.3,559.2 M1678.4,720.4 L1835.4,563.4 M1682.6,724.6 L1839.6,567.6 M1686.7,728.8 L1843.8,571.7 M1690.9,732.9 L1847.9,575.9 M1695.1,737.1 L1852.1,580.1 M1699.2,741.3 L1856.3,584.2" stroke="#fff" stroke-width="1.9" fill="none"/></g>
<clipPath id="trTop"><circle cx="1698.2" cy="499" r="101"/></clipPath>
<g clip-path="url(#trTop)"><path d="M1712.2,395 L1712.2,431 L1717.9,434.5 L1729.4,436.5 Q1733.7,444 1741,444.5 L1744,444.5 L1744,457.4 L1805,457.4 L1805,395 Z" fill="#111" stroke="none"/></g>
<clipPath id="hc11"><path d="M1715,401 L1715,429.5 L1731,431 L1744,441 L1750,455 L1800,455 L1800,401 Z"/></clipPath>
<g clip-path="url(#hc11)"><path d="M1658.8,426.1 L1753.6,331.3 M1667.0,434.2 L1761.7,339.5 M1675.1,442.4 L1769.9,347.6 M1683.2,450.5 L1778.0,355.7 M1691.4,458.6 L1786.1,363.9 M1699.5,466.8 L1794.3,372.0 M1707.6,474.9 L1802.4,380.1 M1715.7,483.0 L1810.5,388.2 M1723.9,491.1 L1818.6,396.4 M1732.0,499.3 L1826.8,404.5 M1740.1,507.4 L1834.9,412.6 M1748.3,515.5 L1843.0,420.8 M1756.4,523.7 L1851.2,428.9" stroke="#fff" stroke-width="3.0" fill="none"/></g>
<path d="M1624,569.5 L1772.5,569.5" stroke="#111" stroke-width="3.8" fill="none"/>
<path d="M1744.5,431 L1746.8,436 L1746.8,462 L1727,491.5" stroke="#111" stroke-width="5.2" fill="none"/>
<path d="M1744.5,431 L1746.8,436 L1746.8,462 L1727,491.5" stroke="#fff" stroke-width="1.6" fill="none"/>
<circle cx="1739.5" cy="433.7" r="4.3" fill="none" stroke="#fff" stroke-width="1.7"/>
<path d="M1661,488.9 L1724,488.9 Q1731.8,489 1731.8,496 L1731.8,536 Q1731.8,544 1722,544 L1650,544 L1656.8,522 L1656.8,494 Q1656.8,488.9 1661,488.9 Z" stroke="none" stroke-width="0" fill="#111"/>
<path d="M1657.5,520 L1643.2,543 L1643.2,569" stroke="#111" stroke-width="5.2" fill="none"/>
<path d="M1657.5,520 L1643.2,543 L1643.2,569" stroke="#fff" stroke-width="1.5" fill="none"/>
<path d="M1680,543 L1724,543 Q1722,560 1711,569.5 L1666,569.5 Q1677,562 1680,543 Z" stroke="none" stroke-width="0" fill="#111"/>
<path d="M1694.5,546 Q1694,560 1685,567" stroke="#fff" stroke-width="2.6" fill="none"/>
<path d="M1709,546 Q1708.5,560 1699.5,567" stroke="#fff" stroke-width="2.6" fill="none"/>
<circle cx="1698.2" cy="499" r="101" fill="none" stroke="#111" stroke-width="4.2"/>
<text x="0" y="0" transform="translate(31.0,311.7) scale(0.6508,1)" font-family="Liberation Serif" font-size="38.65" font-weight="bold" fill="#111" stroke="#111" stroke-width="0.6" stroke-linejoin="round" letter-spacing="0">w</text>
<text x="0" y="0" transform="translate(98.5,410.9) scale(0.7458,1)" font-family="Liberation Serif" font-size="43.14" font-weight="bold" fill="#111" stroke="none" letter-spacing="0">h</text>
<text x="0" y="0" transform="translate(722.0,228.6) scale(0.9817,1)" font-family="Liberation Serif" font-size="40.95" font-weight="normal" fill="#111" stroke="#111" stroke-width="1.1" stroke-linejoin="round" letter-spacing="0">45</text>
<text x="0" y="0" transform="translate(509.0,542.6) scale(0.8671,1)" font-family="Liberation Serif" font-size="43.55" font-weight="bold" fill="#111" stroke="none" letter-spacing="0">e</text>
<text x="0" y="0" transform="translate(510.0,596.3) scale(0.9523,1)" font-family="Liberation Serif" font-size="39.17" font-weight="bold" fill="#111" stroke="none" letter-spacing="0">a</text>
<text x="0" y="0" transform="translate(787.2,376.0) scale(0.9952,1)" font-family="Liberation Serif" font-size="42.81" font-weight="bold" fill="#111" stroke="none" letter-spacing="0">s</text>
<text x="0" y="0" transform="translate(805.0,376.0) scale(0.819,1)" font-family="Liberation Serif" font-size="28.27" font-weight="bold" fill="#111" stroke="none" letter-spacing="0">2</text>
<text x="0" y="0" transform="translate(1257.0,94.0) scale(0.7922,1)" font-family="Liberation Serif" font-size="42.13" font-weight="normal" fill="#111" stroke="#111" stroke-width="0.7" stroke-linejoin="round" letter-spacing="0">B</text>
<text x="0" y="0" transform="translate(1287.6,94.0) scale(0.785,1)" font-family="Liberation Serif" font-size="42.48" font-weight="normal" fill="#111" stroke="#111" stroke-width="0.7" stroke-linejoin="round" letter-spacing="0">i</text>
<text x="0" y="0" transform="translate(1008.7,366.5) scale(0.8776,1)" font-family="Liberation Serif" font-size="37.67" font-weight="normal" fill="#111" stroke="#111" stroke-width="0.7" stroke-linejoin="round" letter-spacing="0">d</text>
<text x="0" y="0" transform="translate(1220.0,331.5) scale(0.6912,1)" font-family="Liberation Serif" font-size="41.94" font-weight="normal" fill="#111" stroke="#111" stroke-width="0.7" stroke-linejoin="round" letter-spacing="0">n</text>
<text x="0" y="0" transform="translate(1246.7,422.0) scale(1.1531,1)" font-family="Liberation Serif" font-size="39.65" font-weight="normal" fill="#111" stroke="#111" stroke-width="0.7" stroke-linejoin="round" letter-spacing="0">s</text>
<text x="0" y="0" transform="translate(1268.1,422.0) scale(0.7775,1)" font-family="Liberation Serif" font-size="30.74" font-weight="normal" fill="#111" stroke="#111" stroke-width="0.7" stroke-linejoin="round" letter-spacing="0">l</text>
<text x="0" y="0" transform="translate(1072.5,516.4) scale(1.1828,1)" font-family="Liberation Serif" font-size="32.31" font-weight="normal" fill="#111" stroke="#111" stroke-width="0.7" stroke-linejoin="round" letter-spacing="0">g</text>
<text x="0" y="0" transform="translate(1260.6,607.0) scale(1.0491,1)" font-family="Liberation Serif" font-size="37.53" font-weight="normal" fill="#111" stroke="#111" stroke-width="0.7" stroke-linejoin="round" letter-spacing="0">b</text>
<text x="0" y="0" transform="translate(1628.8,358.2) scale(1.0,1)" font-family="Liberation Sans" font-size="24.8" font-weight="normal" fill="#231f20" stroke="none" letter-spacing="1.069">SR type seal</text>
<text x="0" y="0" transform="translate(1623.4,645.2) scale(1.0,1)" font-family="Liberation Sans" font-size="24.8" font-weight="normal" fill="#231f20" stroke="none" letter-spacing="1.011">TRL type seal</text>
</g>
</svg>
</body></html>
